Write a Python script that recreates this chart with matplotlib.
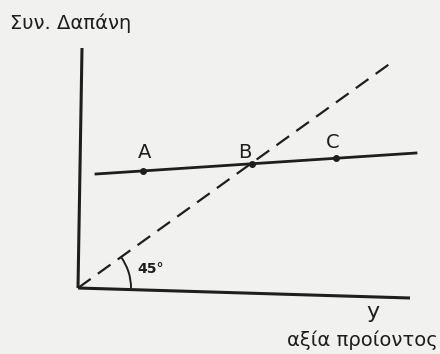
import numpy as np
import matplotlib.pyplot as plt
from matplotlib.patches import Arc

# picture coordinates (pixels, y down)
origin = (78, 288)
y_axis_top = (82, 48)
x_axis_end = (410, 298)
cost_line = [(96, 174), (416, 153)]
point_names = ['A', 'B', 'C']
point_x = [143, 252, 336]
point_y = [171, 164, 158]
label_x = [145, 245, 333]
label_y = [153, 152, 143]
diag_end = (395, 60)

ink = '#1e1e1e'

fig = plt.figure(figsize=(4.4, 3.54), dpi=100, facecolor='#f1f1ef')
ax = fig.add_axes([0, 0, 1, 1])
ax.set_xlim(0, 440)
ax.set_ylim(354, 0)
ax.axis('off')

# axes of the diagram
ax.plot([origin[0], y_axis_top[0]], [origin[1], y_axis_top[1]], color=ink, lw=2.2, solid_capstyle='butt')
ax.plot([origin[0], x_axis_end[0]], [origin[1], x_axis_end[1]], color=ink, lw=2.2, solid_capstyle='butt')

# 45 degree dashed line
ax.plot([origin[0], diag_end[0]], [origin[1], diag_end[1]], color=ink, lw=1.6, ls=(0, (7, 4)))

# cost line with points A, B, C
ax.plot([p[0] for p in cost_line], [p[1] for p in cost_line], color=ink, lw=2.0)
ax.plot(point_x, point_y, 'o', color=ink, ms=4)
for name, lx, ly in zip(point_names, label_x, label_y):
    ax.text(lx, ly, name, fontsize=14, ha='center', va='center', color=ink)

# angle arc
ang = np.degrees(np.arctan2(origin[1] - diag_end[1], diag_end[0] - origin[0]))
ax.add_patch(Arc(origin, 106, 106, theta1=-ang, theta2=0, color=ink, lw=1.4))
ax.text(151, 269, '45°', fontsize=10, ha='center', va='center', color=ink, fontweight='bold')

ax.text(373, 312, 'y', fontsize=16, ha='center', va='center', color=ink)
ax.text(438, 340, 'αξία προίοντος', fontsize=14, ha='right', va='center', color=ink)
ax.text(10, 23, 'Συν. Δαπάνη', fontsize=14, ha='left', va='center', color=ink)

plt.savefig('out.png', dpi=100, facecolor=fig.get_facecolor())
